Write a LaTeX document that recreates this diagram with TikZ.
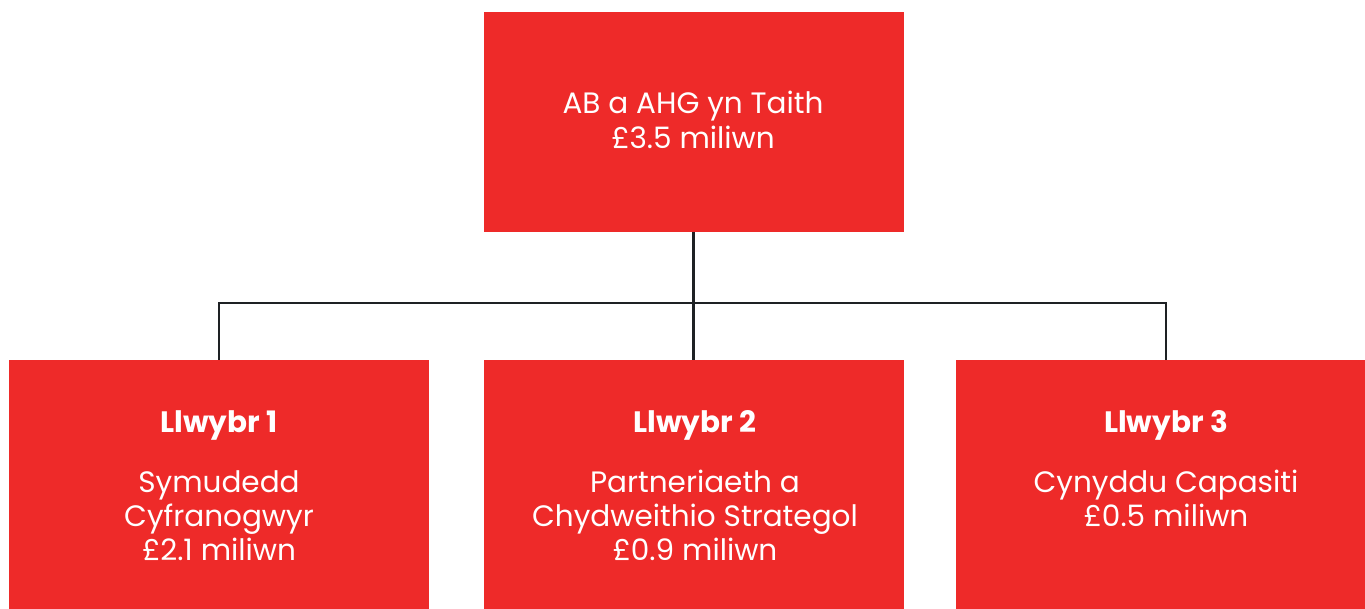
\documentclass[tikz,border=0pt]{standalone}
\usepackage{fontspec}
\setmainfont{Poppins}
\definecolor{boxred}{HTML}{EE2A29}
\definecolor{linedark}{HTML}{1E2124}
\begin{document}
\begin{tikzpicture}[x=1pt,y=-1pt,
  box/.style={fill=boxred,draw=none,minimum width=420pt,inner sep=0pt,outer sep=0pt},
  txt/.style={text=white,inner sep=0pt,anchor=base,font=\fontsize{29.5}{35}\selectfont},
  head/.style={txt,font=\fontsize{29.5}{35}\selectfont\bfseries},
  conn/.style={draw=linedark,line width=2.2pt}]
\useasboundingbox (0,0) rectangle (1365,608);
\clip (0,0) rectangle (1365,608);
\node[box,minimum height=220pt,anchor=north] (top) at (693.5,12) {};
\node[box,minimum height=270pt,anchor=north] (b1) at (219,360) {};
\node[box,minimum height=270pt,anchor=north] (b2) at (693.5,360) {};
\node[box,minimum height=270pt,anchor=north] (b3) at (1166,360) {};
\coordinate (j) at (693.5,303);
\draw[conn] (top.south) -- (j);
\draw[conn] (j) -| (b1.north);
\draw[conn] (j) -| (b3.north);
\draw[conn] (j) -- (b2.north);
\node[txt] (t1) at (693,113) {AB a AHG yn Taith};
\node[txt] (t2) at (693,148) {£3.5 miliwn};
\node[head] (h1) at (219,432) {Llwybr 1};
\node[txt] (a1) at (219,492) {Symudedd};
\node[txt] (a2) at (219,526) {Cyfranogwyr};
\node[txt] (a3) at (219,560) {£2.1 miliwn};
\node[head] (h2) at (695,432) {Llwybr 2};
\node[txt] (c1) at (695,492) {Partneriaeth a};
\node[txt] (c2) at (695,526) {Chydweithio Strategol};
\node[txt] (c3) at (695,560) {£0.9 miliwn};
\node[head] (h3) at (1166,432) {Llwybr 3};
\node[txt] (d1) at (1166,492) {Cynyddu Capasiti};
\node[txt] (d2) at (1166,526) {£0.5 miliwn};
\end{tikzpicture}
\end{document}
